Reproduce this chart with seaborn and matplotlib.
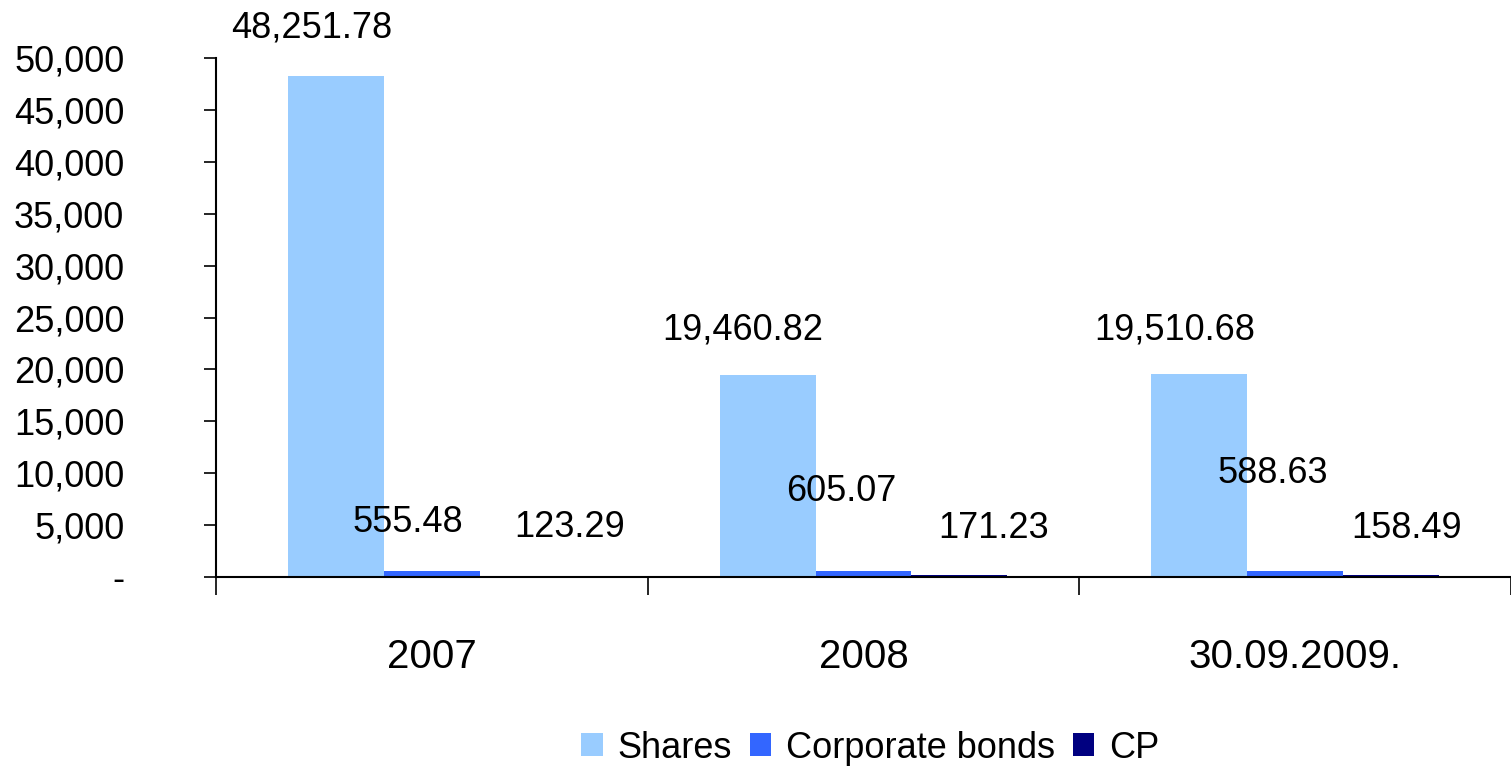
import matplotlib
matplotlib.use("Agg")
import matplotlib.pyplot as plt
import seaborn as sns
import pandas as pd
from matplotlib.patches import Patch
from matplotlib.ticker import FuncFormatter, FixedLocator

# ---- data ----
categories = ["2007", "2008", "30.09.2009."]
series_names = ["Shares", "Corporate bonds", "CP"]
shares = [48251.78, 19460.82, 19510.68]
corporate_bonds = [555.48, 605.07, 588.63]
cp = [123.29, 171.23, 158.49]
colors = ["#99CCFF", "#3366FF", "#000080"]

# ---- label offsets (pixels) relative to bar top centre ----
label_dx = [[-24, -25, -25], [-24, -22, -22], [42, 34, 15]]
label_dy = [[48, 45, 44], [49, 79, 97], [48, 47, 47]]

rows = []
for name, vals in zip(series_names, [shares, corporate_bonds, cp]):
    for c, v in zip(categories, vals):
        rows.append({"Year": c, "Series": name, "Value": v})
df = pd.DataFrame(rows)

sns.set_theme(style="white")
plt.rcParams["font.family"] = ["Liberation Sans", "DejaVu Sans"]
plt.rcParams["text.color"] = "black"

fig = plt.figure(figsize=(15.11, 7.69), dpi=100)
ax = fig.add_axes([216/1511, 1-577/769, 1-216/1511, (577-58)/769])

sns.barplot(data=df, x="Year", y="Value", hue="Series", order=categories,
            hue_order=series_names, palette=colors, width=2/3, gap=0,
            linewidth=0, saturation=1, errorbar=None, legend=False, ax=ax)

ax.set_xlim(-0.5, 2.5)
ax.set_ylim(0, 50000)
ax.set_yticks(range(0, 50001, 5000))
ax.yaxis.set_major_formatter(FuncFormatter(lambda v, p: "-" if v == 0 else f"{v:,.0f}"))
ax.tick_params(axis="y", labelsize=26, length=9, width=1.2, direction="out", left=True,
               pad=57, colors="black")
ax.tick_params(axis="x", which="major", labelsize=29, length=0, pad=44, colors="black")
ax.xaxis.set_minor_locator(FixedLocator([-0.5, 0.5, 1.5, 2.5]))
ax.tick_params(axis="x", which="minor", length=13, width=1.2, direction="out", bottom=True, color="black")
ax.set_xlabel("")
ax.set_ylabel("")
for s in ["top", "right"]:
    ax.spines[s].set_visible(False)
for s in ["left", "bottom"]:
    ax.spines[s].set_color("black")
    ax.spines[s].set_linewidth(1.5)

# data labels
all_vals = [shares, corporate_bonds, cp]
for si, cont in enumerate(ax.containers):
    for ci, bar in enumerate(cont):
        xc = bar.get_x() + bar.get_width() / 2
        h = bar.get_height()
        ax.annotate(f"{all_vals[si][ci]:,.2f}", xy=(xc, h),
                    xytext=(label_dx[si][ci] * 0.72, label_dy[si][ci] * 0.72),
                    textcoords="offset points", ha="center", va="center",
                    fontsize=26, color="black", annotation_clip=False)

handles = [Patch(facecolor=c, edgecolor="none") for c in colors]
fig.legend(handles, series_names, loc="center", bbox_to_anchor=(870/1511, 1-748/769),
           ncol=3, frameon=False, fontsize=26, handlelength=0.6, handleheight=0.6,
           handletextpad=0.4, columnspacing=0.5, borderpad=0, labelcolor="black")

fig.savefig("out.png", dpi=100, facecolor="white")
